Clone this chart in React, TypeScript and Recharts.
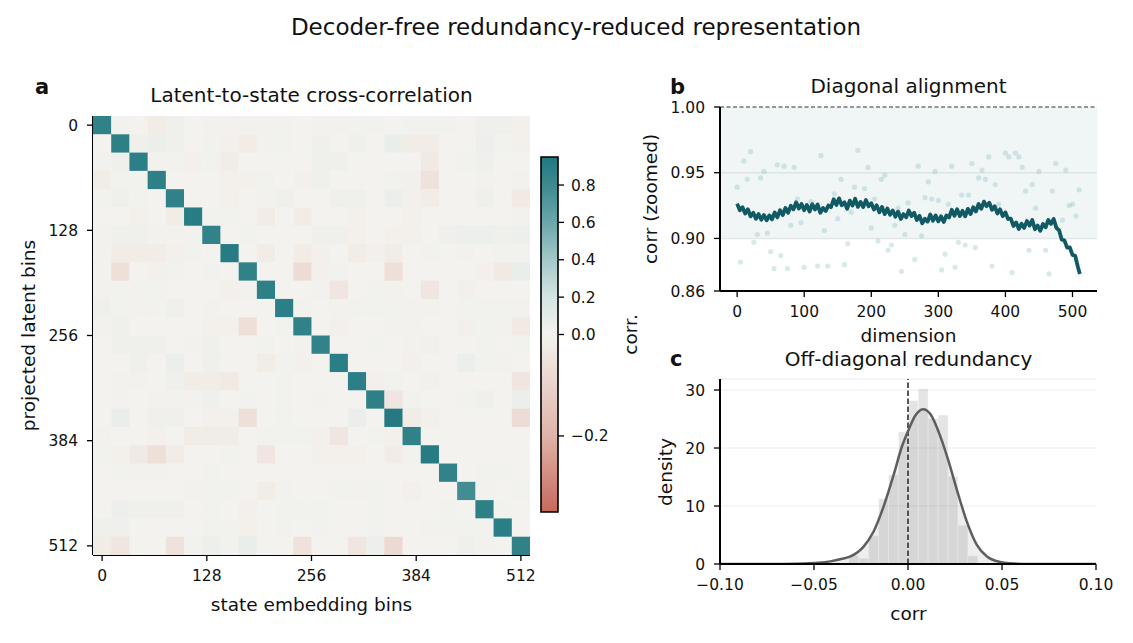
import React from "react";
import {
  ScatterChart,
  ComposedChart,
  Scatter,
  Line,
  Area,
  XAxis,
  YAxis,
  CartesianGrid,
  ReferenceArea,
  ReferenceLine,
} from "recharts";

const FONT = '"DejaVu Sans", sans-serif';
const INK = "#111";
const TICK = { fontSize: 15.5, fill: INK, fontFamily: FONT };

// ---------- panel a: binned latent/state cross-correlation (24 x 24) ----------
const NBINS = 24;
const MAX_BIN = 512;
const binTicks = [0, 128, 256, 384, 512];

const corrRows: number[][] = [
  [0.87, 0.02, 0, -0.02, 0.03, 0, 0.01, 0.01, 0.01, 0.01, 0.01, 0, 0.01, 0.01, 0.02, 0.02, 0, 0.02, 0.02, 0.01, 0, 0.03, 0.03, -0.01],
  [0, 0.88, 0.03, 0.05, 0.03, 0, 0.02, -0.01, -0.02, 0.02, 0.02, 0, 0.03, 0, 0.03, 0, 0.06, -0.02, -0.02, 0, 0, 0.04, 0.02, -0.01],
  [0.01, 0.03, 0.89, 0.01, 0.02, -0.01, 0.02, -0.02, 0, 0, 0, 0, 0.03, 0.03, 0, 0, 0, 0, -0.03, 0, 0.02, 0.03, 0, 0],
  [-0.02, 0.02, 0.02, 0.88, 0, 0, 0, -0.01, -0.01, 0.02, 0, -0.01, 0.03, 0, 0, 0, 0.02, -0.01, -0.05, 0, 0, 0.01, 0, 0.01],
  [0.02, 0.03, 0.02, 0, 0.87, 0, 0, -0.01, 0, 0.01, 0.03, 0, 0, 0.03, 0.03, 0, 0.05, -0.01, -0.02, 0, 0, 0.03, 0, -0.03],
  [0, 0, -0.01, 0, -0.02, 0.91, 0.02, 0.02, 0, -0.02, 0, -0.02, 0, 0, -0.01, 0, 0, -0.01, 0, 0, 0, 0, 0, 0.01],
  [0.01, 0.03, 0.03, 0.01, 0.01, 0.01, 0.86, 0, 0.02, 0, 0, 0, 0.03, 0.03, -0.01, 0, -0.01, -0.01, 0, 0.03, 0.04, 0.04, 0.03, 0.04],
  [0.01, -0.02, -0.02, -0.02, -0.01, 0.02, 0, 0.92, 0, -0.02, 0, -0.02, -0.01, 0, -0.02, -0.01, -0.02, 0, 0.02, 0, 0.01, 0, 0.02, 0.02],
  [0.01, -0.06, 0, -0.01, 0.02, 0, 0.02, 0, 0.87, 0, 0, -0.07, -0.01, 0.02, 0, 0, -0.06, 0, 0, 0, 0, -0.01, -0.03, 0.06],
  [0.01, 0.02, 0.01, 0.02, 0, 0, 0, -0.01, 0.01, 0.88, 0, 0, 0.01, -0.04, 0, 0.02, 0.01, 0, -0.04, 0, -0.01, 0, 0, 0],
  [0.03, 0.02, 0.01, 0.01, 0.03, 0, 0.01, 0, 0, 0, 0.89, 0.02, 0, 0.01, 0.02, 0.02, 0.02, 0.01, 0.01, 0, 0.02, 0.02, 0.02, 0.01],
  [0.01, 0.03, 0, 0, 0, 0, -0.01, -0.01, -0.06, 0, 0.02, 0.87, 0, -0.01, 0, 0, 0.01, 0.01, 0, 0, -0.01, 0.02, 0.01, -0.03],
  [0, 0.03, 0.03, 0.03, 0, 0.01, 0.03, 0, 0, 0.02, 0, 0.01, 0.86, 0, 0, 0.02, 0, 0.01, -0.01, 0, 0, 0.02, 0, 0.02],
  [0, 0, 0.03, 0, 0.05, 0, 0.03, 0, 0, -0.02, 0.02, -0.01, 0, 0.9, 0, 0, 0, -0.01, 0, 0, 0.05, 0.02, 0.01, 0],
  [0, 0.01, 0.01, 0, 0.03, -0.02, -0.02, -0.03, 0, 0, 0.02, 0, 0, 0, 0.89, -0.01, 0.02, 0, -0.01, 0, 0, 0, 0, -0.04],
  [0, 0.01, 0, 0.01, 0.01, 0.01, 0.03, 0, 0.02, 0, 0.02, 0, 0.02, 0, 0, 0.88, -0.04, 0.02, 0, 0, 0.02, 0.03, 0, 0.05],
  [0, 0.06, 0, 0.03, 0.03, 0, -0.01, -0.01, -0.06, 0, 0.02, 0, 0, 0, 0.05, 0, 0.93, -0.02, -0.01, 0, 0, 0, 0, -0.07],
  [0.01, 0, 0, -0.01, 0, -0.02, -0.02, -0.02, 0, 0.01, 0.02, 0.02, -0.01, -0.04, 0, 0.02, -0.01, 0.87, 0, 0, 0, 0, 0, 0],
  [0.02, -0.01, -0.03, -0.06, -0.02, 0, 0, 0.02, 0, -0.04, 0, 0, -0.01, -0.01, -0.01, 0, -0.02, 0.02, 0.92, 0, 0, 0, 0, 0],
  [0, 0.02, 0.01, 0.01, 0, 0, 0.02, 0, 0, 0, 0, 0, 0, 0, 0, 0, 0, 0, 0, 0.86, 0, 0.02, 0.02, 0],
  [0, 0, 0, 0, 0, 0.01, 0.02, 0.02, 0, -0.02, 0.02, 0, 0, 0.02, 0.01, 0.02, 0, -0.01, 0, 0, 0.78, 0.01, 0, 0.02],
  [0, 0.04, 0.03, 0.03, 0.03, 0, 0.02, 0, -0.01, 0, 0.02, 0.02, 0.02, 0, 0, 0.02, 0, 0, 0, 0.02, 0, 0.88, 0.02, 0],
  [0.03, 0.03, 0, 0, 0, 0, 0.02, 0.02, -0.01, 0, 0.02, 0, 0.02, 0, 0, 0.02, 0, 0, 0.02, 0.01, 0.02, 0.02, 0.9, 0],
  [-0.02, -0.04, 0, 0, -0.05, 0.02, 0.04, 0.02, 0.06, 0, 0, -0.05, 0, 0, -0.04, 0.04, -0.08, 0, 0, 0, 0.03, 0.01, 0, 0.87],
];

// two-slope colour scale centred on zero
const V_MIN = -0.35;
const V_MAX = 0.95;
const cbarTicks = [-0.2, 0, 0.2, 0.4, 0.6, 0.8];
const cmapStops: [number, string][] = [
  [0, "#c66a5b"],
  [0.214, "#e0b3a9"],
  [0.5, "#f4f2ee"],
  [0.605, "#d3e4e2"],
  [0.711, "#a2c8c8"],
  [0.816, "#6ba7aa"],
  [0.921, "#3d8a8f"],
  [1, "#217880"],
];

// ---------- panel b: diagonal correlation per dimension ----------
const DIM_STEP = 4;
const LAST_DIM = 511;
const diagCorr = [
  0.9265, 0.9215, 0.9238, 0.919, 0.9222, 0.9168, 0.9195, 0.915, 0.9185, 0.9142, 0.9178, 0.9138, 0.9175, 0.9145, 0.9198, 0.916,
  0.9215, 0.9178, 0.9232, 0.9195, 0.9248, 0.9222, 0.9275, 0.9228, 0.9262, 0.9215, 0.9255, 0.9205, 0.9262, 0.922, 0.9258, 0.9195,
  0.9232, 0.9208, 0.925, 0.9238, 0.9298, 0.9255, 0.9305, 0.9252, 0.9275, 0.9225, 0.9288, 0.925, 0.9302, 0.924, 0.9278, 0.9238,
  0.9292, 0.9245, 0.9268, 0.922, 0.9252, 0.9198, 0.924, 0.9185, 0.9228, 0.918, 0.9212, 0.9165, 0.9205, 0.9148, 0.9185, 0.916,
  0.9212, 0.917, 0.9195, 0.914, 0.9172, 0.9115, 0.915, 0.9128, 0.9182, 0.9135, 0.9175, 0.913, 0.9168, 0.9125, 0.9175, 0.916,
  0.9218, 0.9172, 0.9222, 0.917, 0.921, 0.9168, 0.9225, 0.9185, 0.9238, 0.9205, 0.9262, 0.9225, 0.928, 0.9245, 0.9272, 0.9218,
  0.9245, 0.919, 0.9222, 0.917, 0.9198, 0.9148, 0.915, 0.9095, 0.9122, 0.9072, 0.9112, 0.908, 0.9132, 0.9098, 0.914, 0.907,
  0.9098, 0.9058, 0.911, 0.9085, 0.914, 0.911, 0.9148, 0.908, 0.9062, 0.899, 0.8985, 0.893, 0.8932, 0.8875, 0.8868, 0.8785,
  0.873,
];

const sampleDims = [
  0, 5, 10, 15, 20, 25, 30, 35, 40, 45, 50, 55, 60, 65, 70, 75, 80, 85, 90, 95, 100, 110, 120, 125, 130, 135, 145, 150,
  155, 160, 165, 170, 175, 180, 190, 195, 200, 205, 210, 215, 220, 225, 230, 235, 240, 245, 250, 255, 265, 270, 275, 280,
  285, 290, 295, 300, 305, 310, 315, 320, 325, 330, 335, 340, 345, 350, 355, 360, 365, 370, 375, 380, 385, 390, 400, 405,
  410, 415, 420, 425, 430, 435, 440, 445, 450, 460, 465, 470, 475, 485, 490, 495, 500, 505, 510,
];
const sampleCorr = [
  0.939, 0.882, 0.959, 0.945, 0.966, 0.897, 0.903, 0.946, 0.951, 0.904, 0.89, 0.877, 0.956, 0.887, 0.955, 0.877, 0.91, 0.954,
  0.93, 0.912, 0.878, 0.928, 0.879, 0.963, 0.906, 0.879, 0.934, 0.915, 0.945, 0.88, 0.896, 0.92, 0.939, 0.967, 0.938, 0.954,
  0.908, 0.93, 0.898, 0.945, 0.948, 0.891, 0.895, 0.91, 0.923, 0.875, 0.903, 0.927, 0.884, 0.955, 0.902, 0.931, 0.943, 0.93,
  0.951, 0.929, 0.876, 0.888, 0.926, 0.955, 0.878, 0.897, 0.933, 0.895, 0.933, 0.957, 0.893, 0.946, 0.952, 0.945, 0.962,
  0.879, 0.941, 0.926, 0.965, 0.962, 0.874, 0.965, 0.962, 0.954, 0.936, 0.891, 0.941, 0.923, 0.951, 0.891, 0.873, 0.936,
  0.957, 0.914, 0.952, 0.925, 0.926, 0.917, 0.937,
];
const diagYTicks = [0.86, 0.9, 0.95, 1.0];
const dimTicks = [0, 100, 200, 300, 400, 500];

// ---------- panel c: off-diagonal correlation histogram ----------
const histStart = -0.0315;
const histWidth = 0.00528;
const histDensity = [1.5, 1.0, 4.9, 11.3, 15.4, 22.8, 28.2, 30.2, 25.1, 25.7, 15.1, 6.7, 1.4];
const fitX = [
  -0.1, -0.08, -0.065, -0.055, -0.048, -0.0413, -0.0355, -0.0306, -0.0236, -0.0183, -0.013, -0.0076, -0.0032, 0, 0.0039,
  0.008, 0.0118, 0.0172, 0.0216, 0.026, 0.0313, 0.0366, 0.042, 0.049, 0.056, 0.065, 0.08, 0.1,
];
const fitDensity = [
  0, 0, 0.02, 0.08, 0.2, 0.45, 0.85, 1.3, 3.0, 5.6, 9.9, 15.4, 20.3, 22.9, 25.6, 26.7, 25.9, 22.0, 17.7, 12.8, 7.3, 3.3,
  1.3, 0.35, 0.08, 0.01, 0, 0,
];
const corrTicks = [-0.1, -0.05, 0, 0.05, 0.1];
const densityTicks = [0, 10, 20, 30];

// ---------- helpers ----------
const norm = (v: number) => (v < 0 ? (0.5 * (v - V_MIN)) / -V_MIN : 0.5 + (0.5 * v) / V_MAX);

const hexRgb = (h: string) => [1, 3, 5].map((i) => parseInt(h.slice(i, i + 2), 16));

function cmap(t: number) {
  const u = Math.max(0, Math.min(1, t));
  for (let i = 1; i < cmapStops.length; i++) {
    const [t1, c1] = cmapStops[i];
    if (u <= t1) {
      const [t0, c0] = cmapStops[i - 1];
      const f = (u - t0) / (t1 - t0);
      const a = hexRgb(c0);
      const b = hexRgb(c1);
      return `rgb(${a.map((x, k) => Math.round(x + (b[k] - x) * f)).join(",")})`;
    }
  }
  return cmapStops[cmapStops.length - 1][1];
}

const minus = (s: string) => s.replace("-", "\u2212");

const binStep = MAX_BIN / (NBINS - 1);
const HALF = binStep / 2;
const cells = corrRows.flatMap((row, r) => row.map((v, c) => ({ col: c * binStep, row: r * binStep, v })));

const HM_W = 437;
const HM_H = 439;
const cellW = HM_W / NBINS;
const cellH = HM_H / NBINS;

const HeatCell = (props: any) => {
  const { cx, cy, payload } = props;
  if (cx == null || cy == null) return null;
  return (
    <rect
      x={cx - cellW / 2}
      y={cy - cellH / 2}
      width={cellW + 0.4}
      height={cellH + 0.4}
      fill={cmap(norm(payload.v))}
    />
  );
};

const SampleDot = (props: any) => {
  const { cx, cy } = props;
  if (cx == null || cy == null) return null;
  return <circle cx={cx} cy={cy} r={2.6} fill="#7fb5b8" fillOpacity={0.3} />;
};

const diagLine = diagCorr.map((corr, i) => ({
  dim: i === diagCorr.length - 1 ? LAST_DIM : i * DIM_STEP,
  corr,
}));
const diagSamples = sampleDims.map((dim, i) => ({ dim, corr: sampleCorr[i] }));
const fitCurve = fitX.map((x, i) => ({ x, d: fitDensity[i] }));
const histBins = histDensity.map((d, i) => ({
  x1: histStart + i * histWidth,
  x2: histStart + (i + 1) * histWidth,
  d,
}));

const spine = { stroke: "#000", strokeWidth: 2 };
const tickLine = { stroke: "#000", strokeWidth: 1.3 };

export default function App() {
  return (
    <div
      style={{
        position: "absolute",
        left: 0,
        top: 0,
        width: 1133,
        height: 643,
        background: "#fff",
        fontFamily: FONT,
        overflow: "hidden",
      }}
    >
      {/* a: heatmap */}
      <div style={{ position: "absolute", left: 0, top: 0 }}>
        <ScatterChart width={545} height={600} margin={{ top: 116, right: 15, bottom: 15, left: 0 }}>
          <XAxis
            type="number"
            dataKey="col"
            domain={[-HALF, MAX_BIN + HALF]}
            allowDataOverflow
            ticks={binTicks}
            tick={TICK}
            tickSize={6}
            tickMargin={9}
            tickLine={tickLine}
            axisLine={spine}
            height={30}
          />
          <YAxis
            type="number"
            dataKey="row"
            domain={[-HALF, MAX_BIN + HALF]}
            allowDataOverflow
            reversed
            ticks={binTicks}
            tick={TICK}
            tickSize={6}
            tickMargin={9}
            tickLine={tickLine}
            axisLine={spine}
            width={93}
          />
          <Scatter data={cells} shape={<HeatCell />} isAnimationActive={false} />
        </ScatterChart>
      </div>

      {/* a: colour bar */}
      <div style={{ position: "absolute", left: 530, top: 140 }}>
        <ComposedChart width={110} height={400} margin={{ top: 17, right: 0, bottom: 28, left: 11 }} data={[{ t: 0 }, { t: 1 }]}>
          <defs>
            <linearGradient id="corrScale" x1="0" y1="1" x2="0" y2="0">
              {cmapStops.map(([t, c]) => (
                <stop key={t} offset={t} stopColor={c} />
              ))}
            </linearGradient>
          </defs>
          <XAxis type="number" dataKey="t" domain={[0, 1]} hide />
          <YAxis
            type="number"
            orientation="right"
            domain={[0, 1]}
            allowDataOverflow
            ticks={cbarTicks.map(norm)}
            tickFormatter={(_v: number, i: number) => minus(cbarTicks[i].toFixed(1))}
            tick={TICK}
            tickSize={6}
            tickMargin={7}
            tickLine={tickLine}
            axisLine={false}
            width={82}
          />
          <Line dataKey="t" stroke="none" dot={false} isAnimationActive={false} />
          <ReferenceArea
            x1={0}
            x2={1}
            y1={0}
            y2={1}
            fill="url(#corrScale)"
            fillOpacity={1}
            stroke="#000"
            strokeWidth={1.6}
          />
        </ComposedChart>
      </div>

      {/* b: diagonal alignment */}
      <div style={{ position: "absolute", left: 640, top: 60 }}>
        <ComposedChart width={480} height={270} margin={{ top: 47, right: 23, bottom: 9, left: 0 }} data={diagLine}>
          <XAxis
            type="number"
            dataKey="dim"
            domain={[-25.55, 536.55]}
            allowDataOverflow
            ticks={dimTicks}
            tick={TICK}
            tickSize={6}
            tickMargin={9}
            tickLine={tickLine}
            axisLine={spine}
            height={30}
          />
          <YAxis
            type="number"
            dataKey="corr"
            domain={[0.86, 1.0]}
            allowDataOverflow
            ticks={diagYTicks}
            tickFormatter={(v: number) => v.toFixed(2)}
            tick={TICK}
            tickSize={6}
            tickMargin={9}
            tickLine={tickLine}
            axisLine={spine}
            width={80}
          />
          <ReferenceArea y1={0.9} y2={1.0} fill="#6f9ea5" fillOpacity={0.1} stroke="none" />
          <ReferenceLine y={0.95} stroke="#dde4e4" strokeWidth={1.5} />
          <ReferenceLine y={0.9} stroke="#e2e6e6" strokeWidth={1.5} />
          <ReferenceLine y={1.0} stroke="#333" strokeWidth={1.2} strokeDasharray="4 2.5" />
          <Scatter data={diagSamples} dataKey="corr" shape={<SampleDot />} isAnimationActive={false} />
          <Line
            dataKey="corr"
            type="linear"
            stroke="#115a64"
            strokeWidth={3.8}
            strokeLinejoin="round"
            dot={false}
            activeDot={false}
            isAnimationActive={false}
          />
        </ComposedChart>
      </div>

      {/* c: off-diagonal redundancy */}
      <div style={{ position: "absolute", left: 640, top: 350 }}>
        <ComposedChart width={480} height={270} margin={{ top: 29, right: 24, bottom: 26, left: 0 }} data={fitCurve}>
          <CartesianGrid vertical={false} stroke="#ececec" strokeWidth={1} />
          <XAxis
            type="number"
            dataKey="x"
            domain={[-0.1, 0.1]}
            allowDataOverflow
            ticks={corrTicks}
            tickFormatter={(v: number) => minus(v.toFixed(2))}
            tick={TICK}
            tickSize={6}
            tickMargin={9}
            tickLine={tickLine}
            axisLine={spine}
            height={30}
          />
          <YAxis
            type="number"
            dataKey="d"
            domain={[0, 31.9]}
            allowDataOverflow
            ticks={densityTicks}
            tick={TICK}
            tickSize={6}
            tickMargin={9}
            tickLine={tickLine}
            axisLine={spine}
            width={80}
          />
          {histBins.map((b) => (
            <ReferenceArea
              key={b.x1}
              x1={b.x1}
              x2={b.x2}
              y1={0}
              y2={b.d}
              fill="#787878"
              fillOpacity={0.2}
              stroke="#fff"
              strokeOpacity={0.7}
              strokeWidth={0.7}
            />
          ))}
          <Area
            dataKey="d"
            type="monotone"
            fill="#787878"
            fillOpacity={0.13}
            stroke="none"
            activeDot={false}
            isAnimationActive={false}
          />
          <ReferenceLine x={0} stroke="#3a3a3a" strokeWidth={1.7} strokeDasharray="5.5 2.5" />
          <Line
            dataKey="d"
            type="monotone"
            stroke="#5e5e5e"
            strokeWidth={2.5}
            dot={false}
            activeDot={false}
            isAnimationActive={false}
          />
        </ComposedChart>
      </div>

      {/* titles, panel letters and axis labels */}
      <svg
        width={1133}
        height={643}
        style={{ position: "absolute", left: 0, top: 0, pointerEvents: "none", fontFamily: FONT }}
      >
        <g fill={INK}>
          <text x={576} y={35} fontSize={23} textAnchor="middle">
            Decoder-free redundancy-reduced representation
          </text>

          <text x={35} y={94} fontSize={21} fontWeight="bold">a</text>
          <text x={311.5} y={101.5} fontSize={20} textAnchor="middle">Latent-to-state cross-correlation</text>
          <text x={311.5} y={611} fontSize={18.5} textAnchor="middle">state embedding bins</text>
          <text x={28} y={335.5} fontSize={18.5} textAnchor="middle" dominantBaseline="central" transform="rotate(-90 28 335.5)">
            projected latent bins
          </text>
          <text x={630} y={334.5} fontSize={18.5} textAnchor="middle" dominantBaseline="central" transform="rotate(-90 630 334.5)">
            corr.
          </text>

          <text x={670} y={94} fontSize={21} fontWeight="bold">b</text>
          <text x={908.5} y={93} fontSize={20} textAnchor="middle">Diagonal alignment</text>
          <text x={908.5} y={342} fontSize={18.5} textAnchor="middle">dimension</text>
          <text x={650} y={199} fontSize={18.5} textAnchor="middle" dominantBaseline="central" transform="rotate(-90 650 199)">
            corr (zoomed)
          </text>

          <text x={670} y={366} fontSize={21} fontWeight="bold">c</text>
          <text x={908.5} y={366} fontSize={20} textAnchor="middle">Off-diagonal redundancy</text>
          <text x={908.5} y={620} fontSize={18.5} textAnchor="middle">corr</text>
          <text x={665} y={472} fontSize={18.5} textAnchor="middle" dominantBaseline="central" transform="rotate(-90 665 472)">
            density
          </text>
        </g>
      </svg>
    </div>
  );
}
